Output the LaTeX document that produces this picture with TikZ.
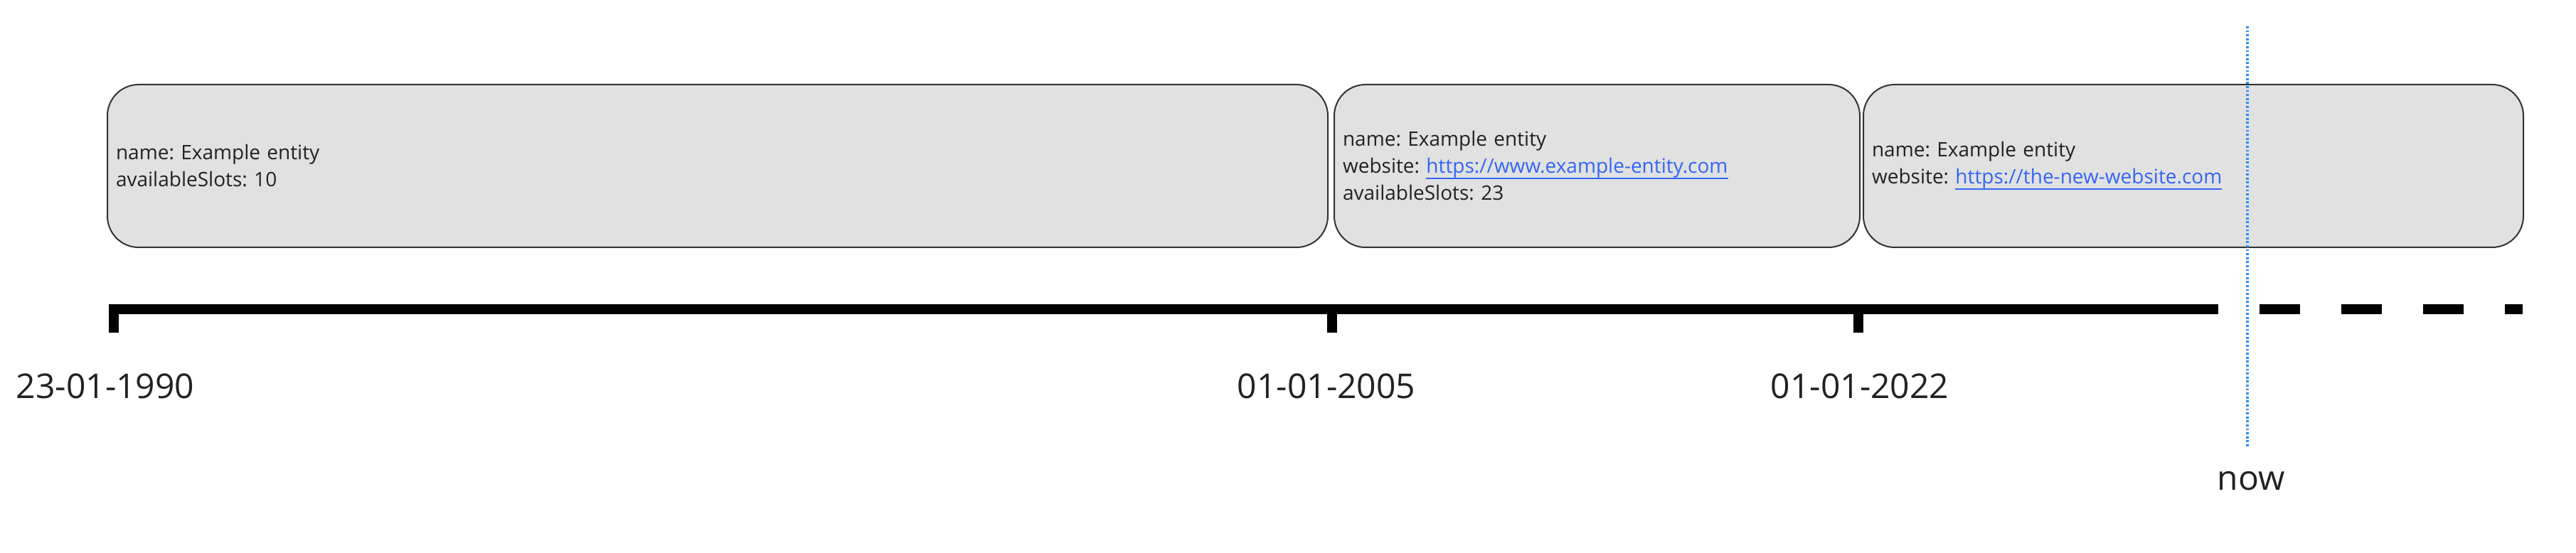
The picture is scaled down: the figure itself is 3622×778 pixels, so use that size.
\documentclass[tikz,border=0pt]{standalone}
\usepackage{fontspec}
\setmainfont{Open Sans}
\definecolor{boxfill}{HTML}{E1E1E1}
\definecolor{boxborder}{HTML}{333333}
\definecolor{textcol}{HTML}{222222}
\definecolor{linkblue}{HTML}{3366F5}
\definecolor{nowblue}{HTML}{2F8FF0}
\newcommand{\weblink}[1]{{\color{linkblue}\setbox0\hbox{#1}\rlap{\rule[-2.1pt]{\wd0}{0.5pt}}\box0}}
\frenchspacing
\begin{document}
\begin{tikzpicture}[x=0.25pt,y=-0.25pt,
  period/.style={draw=boxborder, fill=boxfill, rounded corners=11pt, line width=0.5pt,
    anchor=north west, inner xsep=3pt, inner ysep=0pt, align=left,
    minimum height=57.25pt, text=textcol, font=\fontsize{7pt}{9.5pt}\selectfont},
  axisline/.style={line width=3.5pt, black, line cap=butt},
  datelabel/.style={anchor=base, text=textcol, font=\fontsize{12pt}{14pt}\selectfont, inner sep=0pt},
  nowline/.style={nowblue, line width=0.9pt, dash pattern=on 0.7pt off 0.7pt}]
\useasboundingbox (0,0) rectangle (3622,778);
% periods
\node[period, text width=423pt] (p1) at (150,118) {name: Example entity\\availableSlots: 10};
\node[period, text width=178.75pt] (p2) at (1875,118) {name: Example entity\\website: \weblink{https://www.example-entity.com}\\availableSlots: 23};
\node[period, text width=226pt] (p3) at (2619,118) {name: Example entity\\website: \weblink{https://the-new-website.com}};
% timeline
\coordinate (tk0) at (160,435);
\coordinate (tk1) at (1873,435);
\coordinate (tk2) at (2613,435);
\coordinate (tend) at (3062,435);
\coordinate (tfut) at (3547,435);
\draw[axisline] ([xshift=-1.75pt]tk0) -- (tend);
\draw[axisline, dash pattern=on 14.25pt off 14.5pt] (tend) -- (tfut);
\draw[axisline] (tk0) -- ++(0,33);
\draw[axisline] (tk1) -- ++(0,33);
\draw[axisline] (tk2) -- ++(0,33);
% dates
\node[datelabel] (d0) at (148,561) {23-01-1990};
\node[datelabel] (d1) at (1865,561) {01-01-2005};
\node[datelabel] (d2) at (2615,561) {01-01-2022};
% now
\coordinate (nowtop) at (3160,37);
\coordinate (nowbot) at (3160,630);
\draw[nowline] (nowtop) -- (nowbot);
\node[datelabel] (nowlbl) at (3165,690) {now};
\end{tikzpicture}
\end{document}
